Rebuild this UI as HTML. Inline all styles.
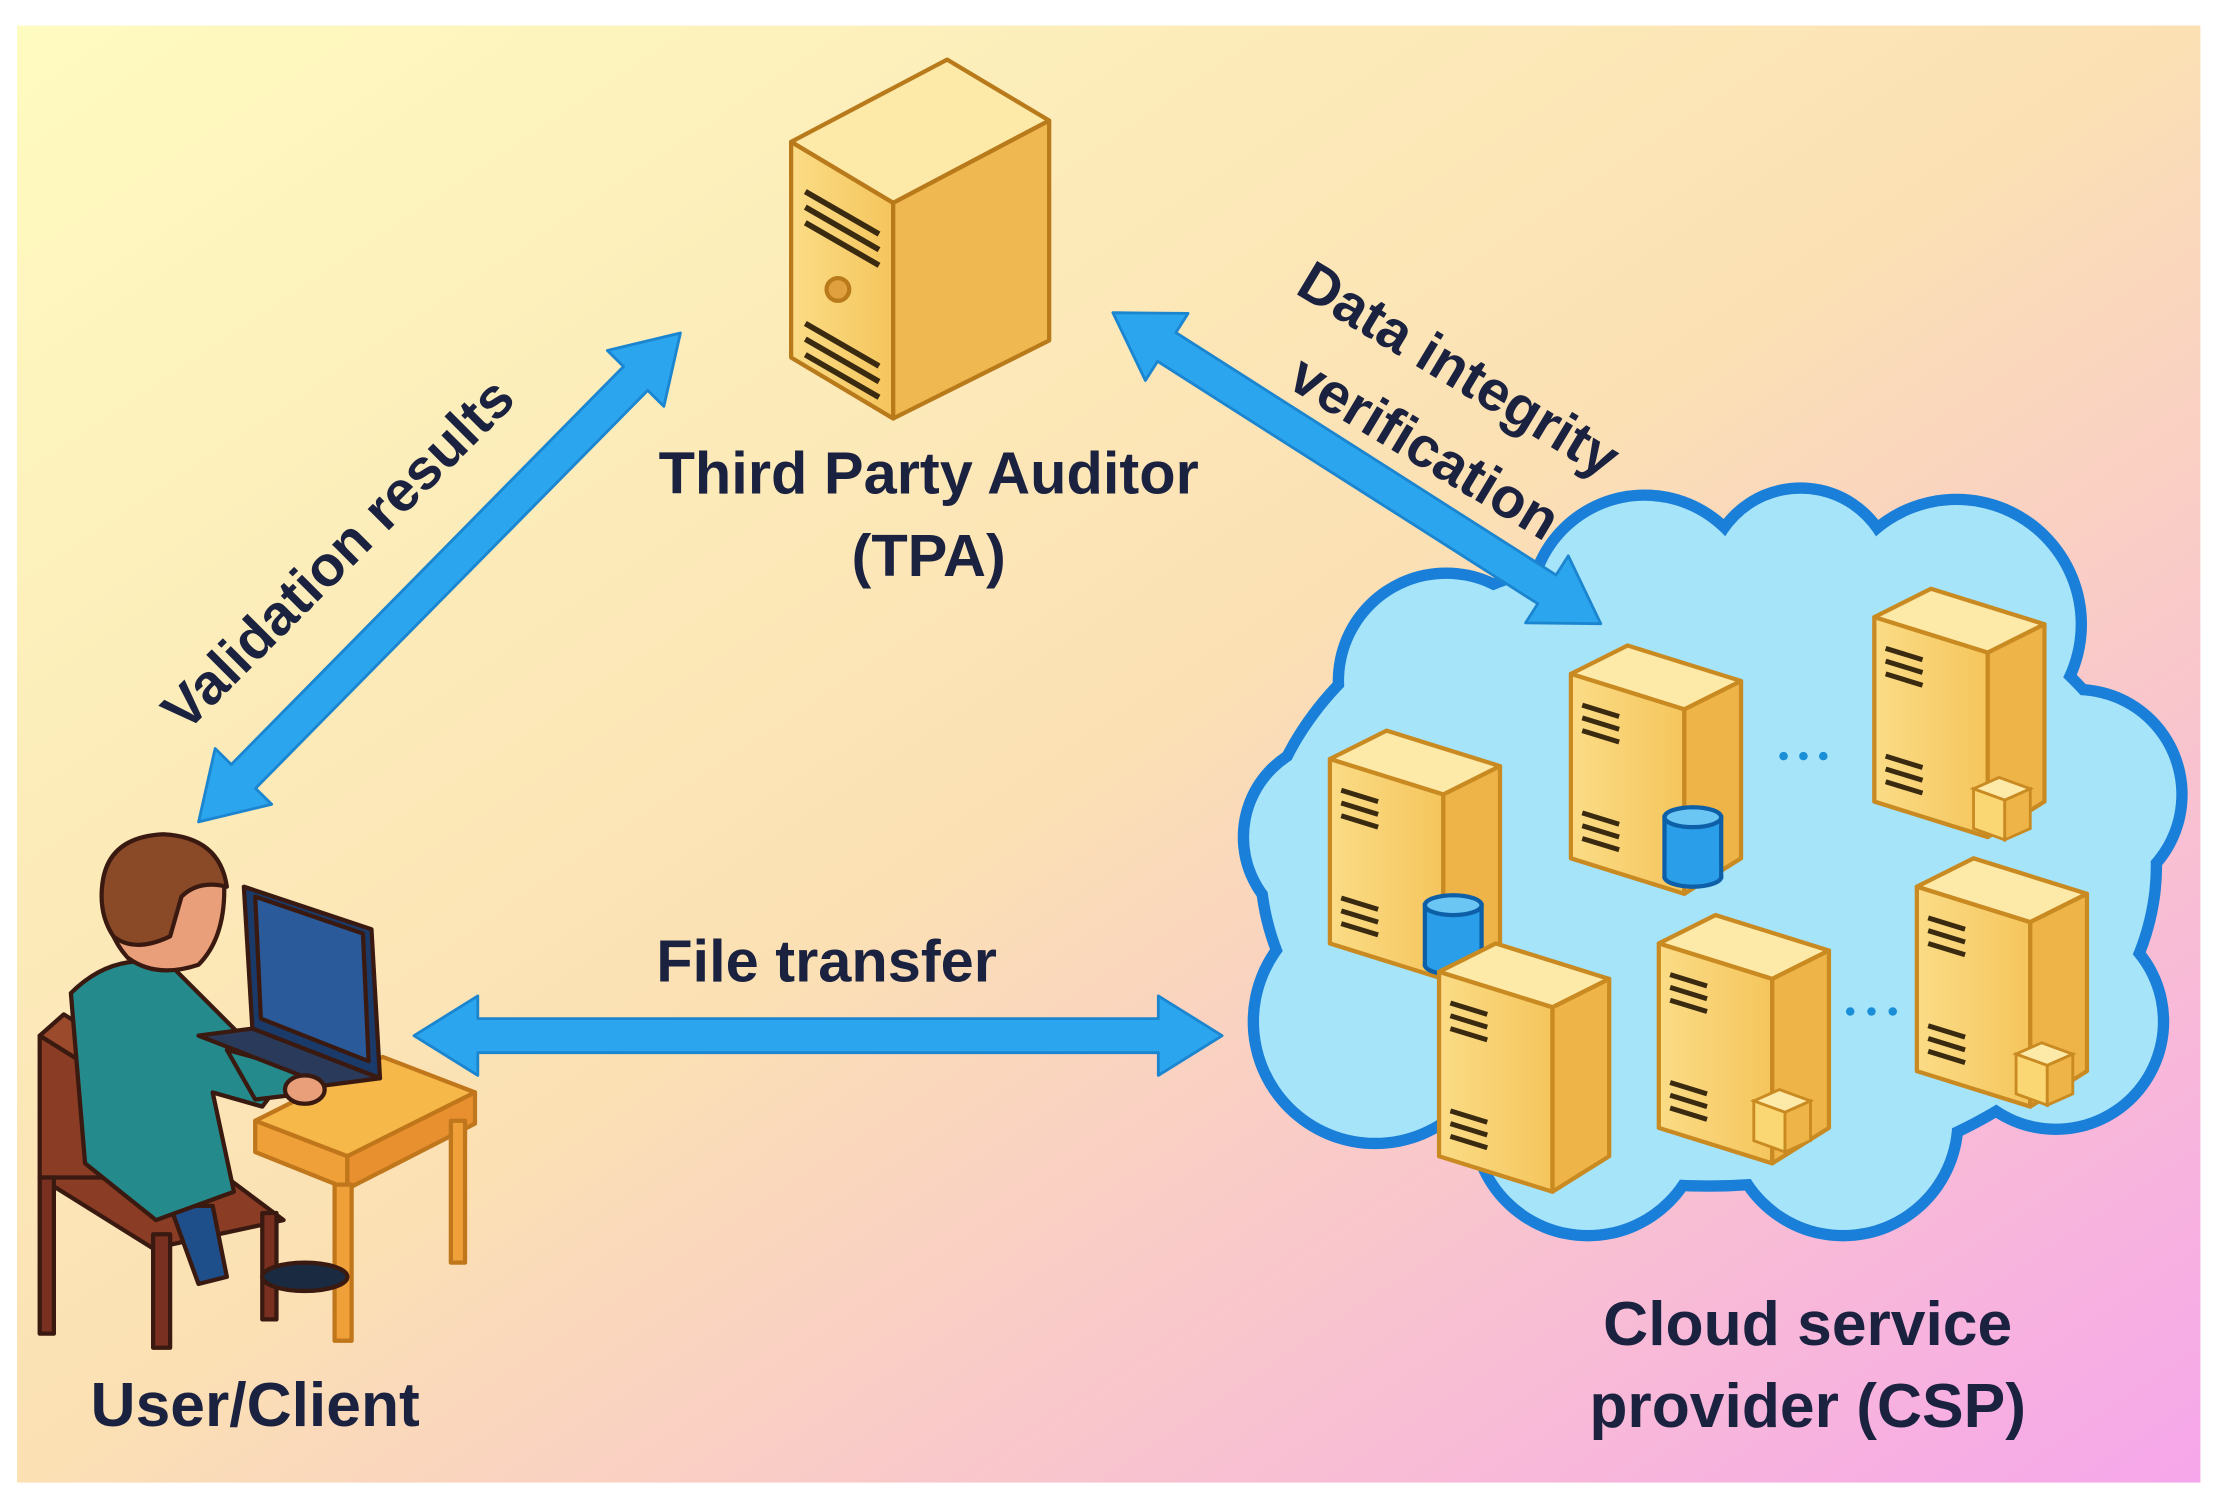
<!DOCTYPE html>
<html><head><meta charset="utf-8"><style>html,body{margin:0;padding:0;background:#fff}svg{display:block}</style></head>
<body>
<svg width="2216" height="1501" viewBox="0 0 1563 1058" preserveAspectRatio="none" xmlns="http://www.w3.org/2000/svg">
<defs>
<linearGradient id="bg" x1="0" y1="0" x2="1" y2="1">
<stop offset="0" stop-color="#fefbc0"/><stop offset="0.5" stop-color="#fbe0b4"/><stop offset="1" stop-color="#f6a6ea"/>
</linearGradient>
<linearGradient id="front" x1="0" y1="0" x2="1" y2="0"><stop offset="0" stop-color="#fbdc86"/><stop offset="1" stop-color="#f5c55c"/></linearGradient>
<g id="srv">
<polygon points="0,20 40,0 120,25 80,45" fill="#fde9a8" stroke="#c98a22" stroke-width="3" stroke-linejoin="round"/>
<polygon points="0,20 80,45 80,175 0,150" fill="url(#front)" stroke="#c98a22" stroke-width="3" stroke-linejoin="round"/>
<polygon points="80,45 120,25 120,150 80,175" fill="#eeb448" stroke="#c98a22" stroke-width="3" stroke-linejoin="round"/>
<g stroke="#3a2a10" stroke-width="3.5">
<line x1="8" y1="42" x2="34" y2="50"/><line x1="8" y1="51" x2="34" y2="59"/><line x1="8" y1="60" x2="34" y2="68"/>
<line x1="8" y1="118" x2="34" y2="126"/><line x1="8" y1="127" x2="34" y2="135"/><line x1="8" y1="136" x2="34" y2="144"/>
</g>
</g>
<g id="cyl">
<rect x="0" y="8" width="40" height="42" fill="#2a9ee8" stroke="#0d5fa8" stroke-width="3"/>
<ellipse cx="20" cy="50" rx="20" ry="7" fill="#2a9ee8" stroke="#0d5fa8" stroke-width="3"/>
<rect x="1.5" y="40" width="37" height="10" fill="#2a9ee8"/>
<ellipse cx="20" cy="8" rx="20" ry="7" fill="#6cc6f4" stroke="#0d5fa8" stroke-width="3"/>
</g>
<g id="box">
<polygon points="0,8 18,0 40,8 22,16" fill="#fde9a8" stroke="#c98a22" stroke-width="2"/>
<polygon points="0,8 22,16 22,44 0,36" fill="#fad772" stroke="#c98a22" stroke-width="2"/>
<polygon points="22,16 40,8 40,36 22,44" fill="#eeb448" stroke="#c98a22" stroke-width="2"/>
</g>
</defs>
<rect x="0" y="0" width="1563" height="1058" fill="#fff"/>
<rect x="12" y="18" width="1540" height="1027" fill="url(#bg)"/>

<!-- TPA server -->
<polygon points="558,100 668,42 740,85 630,143" fill="#fde9a8" stroke="#b87a1a" stroke-width="3" stroke-linejoin="round"/>
<polygon points="558,100 630,143 630,295 558,252" fill="url(#front)" stroke="#b87a1a" stroke-width="3" stroke-linejoin="round"/>
<polygon points="630,143 740,85 740,240 630,295" fill="#f0b850" stroke="#b87a1a" stroke-width="3" stroke-linejoin="round"/>
<g stroke="#3a2a10" stroke-width="4">
<line x1="568" y1="135" x2="620" y2="165"/><line x1="568" y1="146" x2="620" y2="176"/><line x1="568" y1="157" x2="620" y2="187"/>
<line x1="568" y1="228" x2="620" y2="258"/><line x1="568" y1="239" x2="620" y2="269"/><line x1="568" y1="250" x2="620" y2="280"/>
</g>
<circle cx="591" cy="204" r="8" fill="#e0a040" stroke="#b87a1a" stroke-width="3"/>

<!-- cloud -->
<g fill="#1a7fd8">
<ellipse cx="1205" cy="610" rx="320" ry="230"/>
<circle cx="1380" cy="440" r="92"/><circle cx="1465" cy="560" r="78"/><circle cx="1450" cy="720" r="80"/>
<circle cx="1300" cy="790" r="85"/><circle cx="1120" cy="790" r="85"/><circle cx="970" cy="720" r="90"/>
<circle cx="945" cy="590" r="72"/><circle cx="1020" cy="480" r="80"/><circle cx="1160" cy="430" r="85"/><circle cx="1270" cy="410" r="70"/>
</g>
<g fill="#a6e4fa">
<ellipse cx="1205" cy="610" rx="312" ry="222"/>
<circle cx="1380" cy="440" r="84"/><circle cx="1465" cy="560" r="70"/><circle cx="1450" cy="720" r="72"/>
<circle cx="1300" cy="790" r="77"/><circle cx="1120" cy="790" r="77"/><circle cx="970" cy="720" r="82"/>
<circle cx="945" cy="590" r="64"/><circle cx="1020" cy="480" r="72"/><circle cx="1160" cy="430" r="77"/><circle cx="1270" cy="410" r="62"/>
</g>
<use href="#srv" x="1322" y="415"/>
<use href="#box" x="1392" y="548"/>
<use href="#srv" x="1108" y="455"/>
<use href="#cyl" x="1174" y="568"/>
<use href="#srv" x="938" y="515"/>
<use href="#cyl" x="1005" y="630"/>
<use href="#srv" x="1352" y="605"/>
<use href="#box" x="1422" y="735"/>
<use href="#srv" x="1170" y="645"/>
<use href="#box" x="1237" y="768"/>
<use href="#srv" x="1015" y="665"/>
<g fill="#1a8fd8"><circle cx="1258" cy="533" r="3"/><circle cx="1272" cy="533" r="3"/><circle cx="1286" cy="533" r="3"/>
<circle cx="1305" cy="713" r="3"/><circle cx="1320" cy="713" r="3"/><circle cx="1335" cy="713" r="3"/></g>

<g font-family="Liberation Sans, sans-serif" font-weight="bold" fill="#1a2240" text-anchor="middle">
<text x="655" y="348" font-size="42">Third Party Auditor</text>
<text x="655" y="406" font-size="42">(TPA)</text>
<text x="583" y="692" font-size="42">File transfer</text>
<text x="180" y="1005" font-size="44">User/Client</text>
<text x="1275" y="948" font-size="44">Cloud service</text>
<text x="1275" y="1006" font-size="44">provider (CSP)</text>
<text transform="translate(248,400) rotate(-45)" font-size="40">Validation results</text>
<text transform="translate(1022,272) rotate(31)" font-size="40">Data integrity</text>
<text transform="translate(998,327) rotate(31)" font-size="40">verification</text>
</g>

<!-- arrows -->
<g fill="#2ba6ee" stroke="#1b85d0" stroke-width="2" stroke-linejoin="round">
<polygon transform="translate(310,407) rotate(-45.4)" points="-242,0 -197,-28 -197,-12 197,-12 197,-28 242,0 197,28 197,12 -197,12 -197,28"/>
<polygon transform="translate(957,330) rotate(32.5)" points="-204,0 -159,-28 -159,-12 159,-12 159,-28 204,0 159,28 159,12 -159,12 -159,28"/>
<polygon transform="translate(577,730)" points="-285,0 -240,-28 -240,-12 240,-12 240,-28 285,0 240,28 240,12 -240,12 -240,28"/>
</g>

<!-- user -->
<g stroke="#3a1a10" stroke-width="3" stroke-linejoin="round">
<polygon points="28,730 45,715 125,765 108,780" fill="#9b4a2c"/>
<polygon points="28,730 108,780 108,870 28,830" fill="#8a3c24"/>
<polygon points="28,830 160,830 200,860 108,880" fill="#8a3c24"/>
<rect x="28" y="830" width="10" height="110" fill="#7a3020"/>
<rect x="108" y="870" width="12" height="80" fill="#7a3020"/>
<rect x="185" y="855" width="10" height="75" fill="#7a3020"/>
<polygon points="180,790 270,745 335,770 245,815" fill="#f7b84a" stroke="#c0761a"/>
<polygon points="180,790 245,815 245,838 180,812" fill="#f0a038" stroke="#c0761a"/>
<polygon points="245,815 335,770 335,792 245,838" fill="#e89030" stroke="#c0761a"/>
<rect x="236" y="835" width="12" height="110" fill="#f0a038" stroke="#c0761a"/>
<rect x="318" y="790" width="10" height="100" fill="#f0a038" stroke="#c0761a"/>
<path d="M120,850 L150,850 L160,900 L140,905 Z" fill="#1f4f8a"/>
<ellipse cx="215" cy="900" rx="30" ry="10" fill="#1a2a40"/>
<path d="M50,700 Q80,670 120,680 L160,720 L200,760 L185,780 L150,770 L165,840 L110,860 L60,820 Z" fill="#258a8c"/>
<path d="M160,740 L215,755 L222,770 L180,775 Z" fill="#258a8c"/>
<polygon points="172,625 262,655 268,760 178,725" fill="#1a3a6a"/>
<polygon points="180,632 256,658 260,748 184,718" fill="#2a5a9a"/>
<polygon points="140,730 178,725 268,760 230,765" fill="#2a3a5a"/>
<ellipse cx="215" cy="768" rx="14" ry="10" fill="#e9a07a"/>
<path d="M75,625 Q80,595 115,592 Q150,592 158,620 Q160,660 140,680 Q110,690 90,675 Q72,655 75,625 Z" fill="#e9a07a"/>
<path d="M72,625 Q75,590 115,588 Q155,590 160,625 Q140,620 128,632 L120,660 Q95,672 80,660 Q70,645 72,625 Z" fill="#8a4a28"/>
</g>
</svg>
</body></html>
